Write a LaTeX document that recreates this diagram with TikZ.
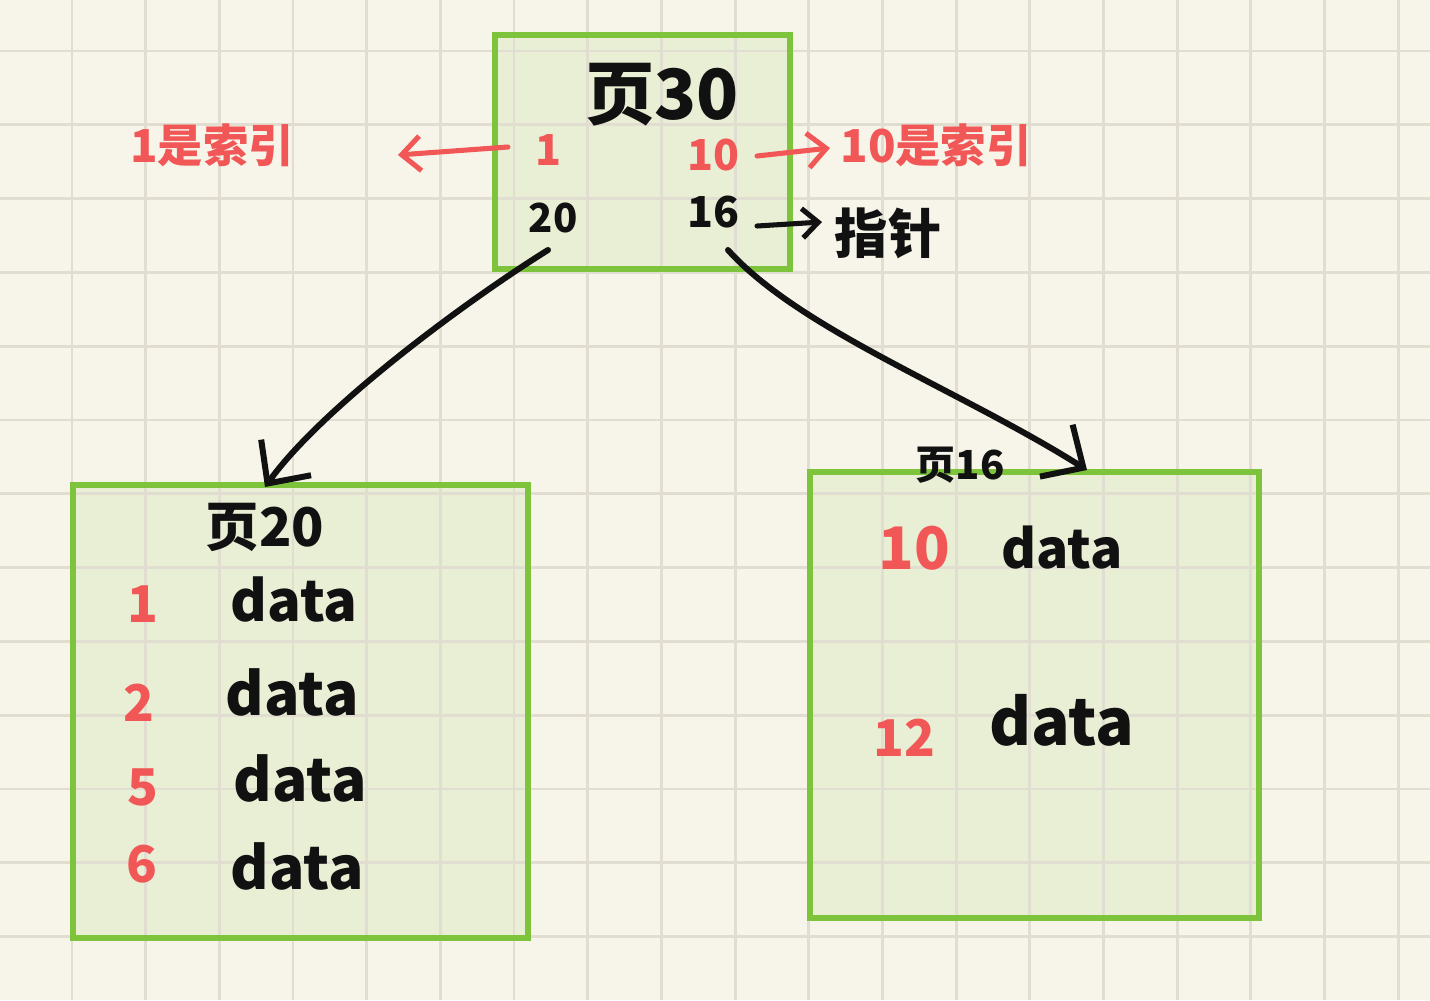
\documentclass[tikz,border=0pt]{standalone}
\usepackage{fontspec}
\setmainfont{Noto Sans CJK SC}
\usetikzlibrary{arrows.meta}
\definecolor{paper}{HTML}{F7F5E9}
\definecolor{gridc}{HTML}{E1DED1}
\definecolor{boxfill}{HTML}{E0EBC9}
\definecolor{boxedge}{HTML}{7DC33B}
\definecolor{ink}{HTML}{111111}
\definecolor{redink}{HTML}{F25757}
\tikzset{
  pagefill/.style={draw=none, fill=boxfill, fill opacity=0.6, inner sep=0pt},
  pageedge/.style={draw=boxedge, line width=3.8pt, inner sep=0pt},
  blk/.style={text=ink, inner sep=0pt, font=\bfseries},
  red/.style={text=redink, inner sep=0pt, font=\bfseries},
  ptr/.style={draw=ink, line width=4.5pt, line cap=round, -{Straight Barb[length=24pt,width=46pt]}},
  redptr/.style={draw=redink, line width=3.8pt, line cap=round, -{Straight Barb[length=14pt,width=26pt]}},
  blkptr/.style={draw=ink, line width=3.8pt, line cap=round, -{Straight Barb[length=12pt,width=22pt]}}
}
\begin{document}
\begin{tikzpicture}[x=0.75pt,y=-0.75pt]
\fill[paper] (0,0) rectangle (1430,1000);
\useasboundingbox (0,0) rectangle (1430,1000);
% page boxes (fill)
\node[pagefill, minimum width=221.25pt, minimum height=175.5pt] (p30f) at (642.5,152) {};
\node[pagefill, minimum width=341.25pt, minimum height=339.75pt] (p20f) at (300.5,711.5) {};
\node[pagefill, minimum width=336.75pt, minimum height=334.5pt] (p16f) at (1034.5,695) {};
% grid
\foreach \k in {0,...,19} {\draw[gridc, line width=2.2pt] ({72+73.67*(\k-1)},0) -- ({72+73.67*(\k-1)},1000);}
\foreach \k in {0,...,14} {\draw[gridc, line width=2.2pt] (0,{51+73.8*(\k-1)}) -- (1430,{51+73.8*(\k-1)});}
% page boxes (border)
\node[pageedge, minimum width=221.25pt, minimum height=175.5pt] (p30) at (642.5,152) {};
\node[pageedge, minimum width=341.25pt, minimum height=339.75pt] (p20) at (300.5,711.5) {};
\node[pageedge, minimum width=336.75pt, minimum height=334.5pt] (p16) at (1034.5,695) {};
% top page texts
\node[blk, font=\bfseries\fontsize{52}{52}\selectfont] (t30) at (662,95) {页30};
\node[red, font=\bfseries\fontsize{32}{32}\selectfont] (k1) at (548,150) {1};
\node[red, font=\bfseries\fontsize{32}{32}\selectfont] (k10) at (713,155) {10};
\node[blk, font=\bfseries\fontsize{30}{30}\selectfont] (k20) at (553,218) {20};
\node[blk, font=\bfseries\fontsize{32}{32}\selectfont] (k16) at (713,212) {16};
% side labels
\node[red, font=\bfseries\fontsize{34}{34}\selectfont] (lidx) at (212,145) {1是索引};
\node[red, font=\bfseries\fontsize{34}{34}\selectfont] (ridx) at (936,145) {10是索引};
\node[blk, font=\bfseries\fontsize{40}{40}\selectfont] (ptrl) at (888,233) {指针};
\coordinate (lastart) at (508,147);
\coordinate (laend) at (398,155);
\coordinate (rastart) at (757,156);
\coordinate (raend) at (830,148);
\coordinate (bastart) at (757,226);
\coordinate (baend) at (822,222);
\draw[redptr] (lastart) -- (laend);
\draw[redptr] (rastart) -- (raend);
\draw[blkptr] (bastart) -- (baend);
% page labels
\node[blk, font=\bfseries\fontsize{40}{40}\selectfont] (t20) at (265,527) {页20};
\node[blk, font=\bfseries\fontsize{30}{30}\selectfont] (t16) at (960,465) {页16};
% left page rows
\node[red, font=\bfseries\fontsize{38}{38}\selectfont] (l1) at (143,604) {1};
\node[red, font=\bfseries\fontsize{38}{38}\selectfont] (l2) at (139,703) {2};
\node[red, font=\bfseries\fontsize{38}{38}\selectfont] (l5) at (143,787) {5};
\node[red, font=\bfseries\fontsize{38}{38}\selectfont] (l6) at (142,864) {6};
\node[blk, font=\bfseries\fontsize{42}{42}\selectfont] (d1) at (294,600) {data};
\node[blk, font=\bfseries\fontsize{44}{44}\selectfont] (d2) at (292,692) {data};
\node[blk, font=\bfseries\fontsize{44}{44}\selectfont] (d5) at (300,778) {data};
\node[blk, font=\bfseries\fontsize{44}{44}\selectfont] (d6) at (297,866) {data};
% right page rows
\node[red, font=\bfseries\fontsize{44}{44}\selectfont] (r10) at (914,548) {10};
\node[red, font=\bfseries\fontsize{38}{38}\selectfont] (r12) at (904,738) {12};
\node[blk, font=\bfseries\fontsize{40}{40}\selectfont] (e10) at (1062,548) {data};
\node[blk, font=\bfseries\fontsize{48}{48}\selectfont] (e12) at (1062,720) {data};
% pointers
\coordinate (c20) at (548,250);
\coordinate (a20) at (265,487);
\coordinate (c16) at (728,250);
\coordinate (a16) at (1087,470);
\draw[ptr] (c20) .. controls (460,305) and (320,410) .. (a20);
\draw[ptr] (c16) .. controls (800,330) and (960,390) .. (a16);
\end{tikzpicture}
\end{document}
